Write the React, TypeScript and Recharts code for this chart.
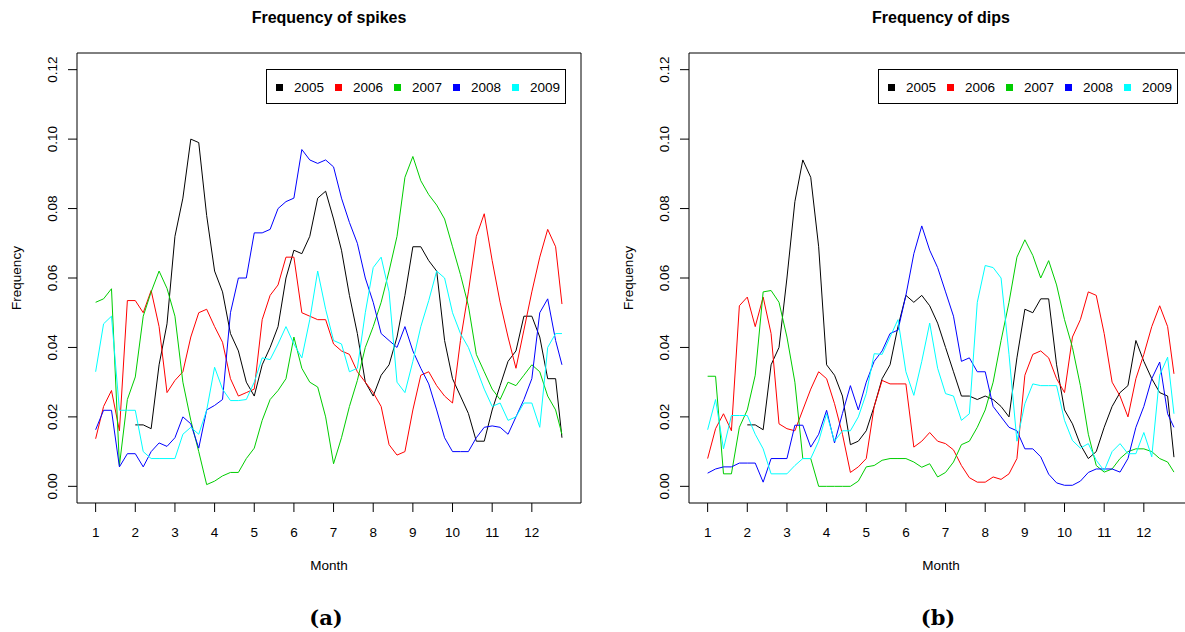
import { LineChart, Line, XAxis, YAxis, ReferenceArea } from 'recharts'

// sampling grid (month of year, fractional)
const months = [
  1, 1.2, 1.4, 1.6, 1.8, 2, 2.2, 2.4, 2.6, 2.8, 3, 3.2, 3.4, 3.6, 3.8, 4, 4.2, 4.4, 4.6, 4.8,
  5, 5.2, 5.4, 5.6, 5.8, 6, 6.2, 6.4, 6.6, 6.8, 7, 7.2, 7.4, 7.6, 7.8, 8, 8.2, 8.4, 8.6, 8.8,
  9, 9.2, 9.4, 9.6, 9.8, 10, 10.2, 10.4, 10.6, 10.8, 11, 11.2, 11.4, 11.6, 11.8, 12, 12.2, 12.4, 12.6, 12.76,
]
const monthTicks = [1, 2, 3, 4, 5, 6, 7, 8, 9, 10, 11, 12]
const freqTicks = [0, 0.02, 0.04, 0.06, 0.08, 0.1, 0.12]
const years = ['2005', '2006', '2007', '2008', '2009']
const colors = ['#000000', '#FF0000', '#00CD00', '#0000FF', '#00FFFF']

// frequency of spikes
const spikes2005 = [
  null, null, null, null, null,
  0.0177, 0.0177, 0.0166, 0.035, 0.0468, 0.072, 0.083, 0.1, 0.099, 0.078,
  0.062, 0.056, 0.044, 0.039, 0.03, 0.026, 0.035, 0.04, 0.046, 0.06,
  0.068, 0.067, 0.072, 0.083, 0.085, 0.077, 0.068, 0.055, 0.044, 0.03,
  0.026, 0.032, 0.035, 0.043, 0.055, 0.069, 0.069, 0.065, 0.062, 0.042,
  0.031, 0.026, 0.021, 0.013, 0.013, 0.022, 0.029, 0.036, 0.039, 0.049,
  0.049, 0.043, 0.031, 0.031, 0.014,
]
const spikes2006 = [
  0.0137, 0.023, 0.0276, 0.016, 0.0535, 0.0535, 0.05, 0.0564, 0.046, 0.027,
  0.0305, 0.033, 0.043, 0.05, 0.051, 0.046, 0.0415, 0.031, 0.026, 0.027,
  0.028, 0.048, 0.055, 0.058, 0.066, 0.066, 0.05, 0.049, 0.048, 0.048,
  0.041, 0.039, 0.038, 0.033, 0.03, 0.027, 0.023, 0.012, 0.009, 0.01,
  0.022, 0.032, 0.033, 0.029, 0.026, 0.024, 0.042, 0.056, 0.072, 0.0785,
  0.065, 0.053, 0.043, 0.034, 0.045, 0.056, 0.066, 0.074, 0.069, 0.0525,
]
const spikes2007 = [
  0.053, 0.054, 0.0569, 0.006, 0.025, 0.0315, 0.049, 0.056, 0.062, 0.057,
  0.049, 0.03, 0.019, 0.01, 0.0005, 0.0015, 0.003, 0.004, 0.004, 0.008,
  0.011, 0.019, 0.025, 0.0276, 0.031, 0.043, 0.034, 0.03, 0.0286, 0.02,
  0.0065, 0.014, 0.023, 0.0305, 0.04, 0.046, 0.053, 0.062, 0.072, 0.089,
  0.095, 0.088, 0.084, 0.081, 0.077, 0.069, 0.061, 0.052, 0.038, 0.033,
  0.028, 0.025, 0.03, 0.029, 0.032, 0.035, 0.033, 0.026, 0.022, 0.015,
]
const spikes2008 = [
  0.0163, 0.0219, 0.0219, 0.0056, 0.0094, 0.0094, 0.0056, 0.01, 0.0125, 0.0115,
  0.014, 0.02, 0.018, 0.011, 0.022, 0.0233, 0.025, 0.05, 0.06, 0.06,
  0.073, 0.073, 0.074, 0.08, 0.082, 0.083, 0.097, 0.094, 0.093, 0.094,
  0.092, 0.083, 0.076, 0.07, 0.06, 0.053, 0.044, 0.042, 0.04, 0.046,
  0.039, 0.034, 0.0295, 0.022, 0.014, 0.01, 0.01, 0.01, 0.014, 0.017,
  0.0174, 0.017, 0.015, 0.02, 0.025, 0.031, 0.05, 0.054, 0.042, 0.035,
]
const spikes2009 = [
  0.033, 0.0468, 0.049, 0.0219, 0.0219, 0.0219, 0.01, 0.008, 0.008, 0.008,
  0.008, 0.015, 0.017, 0.015, 0.0219, 0.0343, 0.028, 0.0247, 0.0247, 0.025,
  0.03, 0.037, 0.0365, 0.041, 0.046, 0.041, 0.037, 0.048, 0.062, 0.051,
  0.042, 0.041, 0.033, 0.034, 0.05, 0.063, 0.066, 0.056, 0.03, 0.027,
  0.036, 0.046, 0.0535, 0.062, 0.06, 0.05, 0.044, 0.04, 0.034, 0.028,
  0.023, 0.024, 0.019, 0.02, 0.024, 0.024, 0.017, 0.04, 0.044, 0.044,
]

// frequency of dips
const dips2005 = [
  null, null, null, null, null,
  0.0177, 0.0177, 0.0163, 0.035, 0.04, 0.06, 0.082, 0.094, 0.089, 0.069,
  0.035, 0.032, 0.026, 0.012, 0.013, 0.016, 0.023, 0.031, 0.035, 0.046,
  0.055, 0.053, 0.055, 0.052, 0.047, 0.04, 0.033, 0.026, 0.026, 0.025,
  0.026, 0.025, 0.023, 0.02, 0.037, 0.051, 0.05, 0.054, 0.054, 0.035,
  0.022, 0.018, 0.012, 0.008, 0.01, 0.017, 0.023, 0.027, 0.029, 0.042,
  0.036, 0.031, 0.027, 0.026, 0.0084,
]
const dips2006 = [
  0.008, 0.0166, 0.0209, 0.016, 0.052, 0.0545, 0.046, 0.0545, 0.044, 0.018,
  0.0166, 0.016, 0.022, 0.028, 0.033, 0.031, 0.0238, 0.015, 0.004, 0.0056,
  0.008, 0.023, 0.0305, 0.0295, 0.0295, 0.0295, 0.0113, 0.013, 0.0155, 0.013,
  0.0123, 0.0105, 0.006, 0.0025, 0.0012, 0.0012, 0.0027, 0.002, 0.0036, 0.008,
  0.032, 0.038, 0.039, 0.037, 0.031, 0.027, 0.043, 0.048, 0.056, 0.055,
  0.044, 0.03, 0.026, 0.02, 0.031, 0.038, 0.046, 0.052, 0.046, 0.0324,
]
const dips2007 = [
  0.0317, 0.0317, 0.0036, 0.0036, 0.017, 0.022, 0.032, 0.056, 0.0564, 0.053,
  0.043, 0.03, 0.008, 0.008, 0, 0, 0, 0, 0, 0.0015,
  0.0056, 0.006, 0.0075, 0.008, 0.008, 0.008, 0.007, 0.0055, 0.0065, 0.0027,
  0.004, 0.007, 0.012, 0.013, 0.017, 0.022, 0.03, 0.042, 0.053, 0.066,
  0.071, 0.0665, 0.06, 0.065, 0.058, 0.048, 0.04, 0.029, 0.015, 0.006,
  0.0041, 0.005, 0.008, 0.01, 0.0108, 0.0108, 0.01, 0.008, 0.007, 0.0041,
]
const dips2008 = [
  0.0038, 0.005, 0.0056, 0.0056, 0.0067, 0.0067, 0.0067, 0.0012, 0.008, 0.008,
  0.008, 0.0176, 0.0176, 0.0113, 0.015, 0.0219, 0.0125, 0.021, 0.029, 0.022,
  0.03, 0.036, 0.039, 0.044, 0.045, 0.055, 0.067, 0.075, 0.068, 0.063,
  0.056, 0.049, 0.036, 0.037, 0.033, 0.033, 0.023, 0.02, 0.017, 0.016,
  0.0108, 0.0108, 0.0085, 0.0035, 0.001, 0.0003, 0.0003, 0.0015, 0.004, 0.005,
  0.005, 0.005, 0.0041, 0.008, 0.017, 0.023, 0.031, 0.0358, 0.0209, 0.017,
]
const dips2009 = [
  0.0163, 0.025, 0.0108, 0.0204, 0.0204, 0.0204, 0.015, 0.0108, 0.0036, 0.0036,
  0.0036, 0.006, 0.008, 0.008, 0.013, 0.0209, 0.013, 0.016, 0.016, 0.02,
  0.0267, 0.0382, 0.038, 0.043, 0.048, 0.033, 0.0262, 0.036, 0.047, 0.034,
  0.0267, 0.026, 0.019, 0.0209, 0.053, 0.0636, 0.063, 0.06, 0.038, 0.013,
  0.0238, 0.0295, 0.029, 0.029, 0.029, 0.019, 0.0132, 0.011, 0.0123, 0.0075,
  0.0045, 0.01, 0.0123, 0.0094, 0.0094, 0.0155, 0.0085, 0.032, 0.0372, 0.0209,
]

const spikeSeries = [spikes2005, spikes2006, spikes2007, spikes2008, spikes2009]
const dipSeries = [dips2005, dips2006, dips2007, dips2008, dips2009]

const toRows = (series: (number | null)[][]) =>
  months.map((month, i) => {
    const row: Record<string, number | null> = { month }
    years.forEach((yr, k) => {
      row['y' + yr] = series[k][i]
    })
    return row
  })

const FONT = '"Liberation Sans", Arial, Helvetica, sans-serif'
const W = 612
const H = 632
// plot box inside each panel
const BOX = { left: 77, right: 581, top: 53, bottom: 503 }
const X_DOMAIN: [number, number] = [0.53, 13.24]
const Y_DOMAIN: [number, number] = [-0.0048, 0.1248]

function YTick(props: any) {
  const { y, payload } = props
  const x = 57
  return (
    <text x={x} y={y} transform={`rotate(-90, ${x}, ${y})`} textAnchor="middle"
      fontSize={13.5} fontFamily={FONT} fill="#000">
      {Number(payload.value).toFixed(2)}
    </text>
  )
}

function XTick(props: any) {
  const { x, payload } = props
  return (
    <text x={x} y={536.5} textAnchor="middle" fontSize={13.5} fontFamily={FONT} fill="#000">
      {payload.value}
    </text>
  )
}

function YearLegend() {
  return (
    <div style={{
      position: 'absolute', left: 266, top: 69, width: 300, height: 35,
      border: '1px solid #000', boxSizing: 'border-box', background: '#fff',
      fontFamily: FONT, fontSize: 13.5,
    }}>
      {years.map((yr, i) => (
        <div key={yr}>
          <div style={{
            position: 'absolute', left: 9 + 59 * i, top: 14, width: 7, height: 7,
            background: colors[i],
          }} />
          <div style={{ position: 'absolute', left: 27 + 59 * i, top: 10.5, lineHeight: '14px' }}>
            {yr}
          </div>
        </div>
      ))}
    </div>
  )
}

type PanelProps = { left: number; title: string; caption: string; series: (number | null)[][] }

function Panel({ left, title, caption, series }: PanelProps) {
  const data = toRows(series)
  const textStyle = { position: 'absolute' as const, fontFamily: FONT, fontSize: 13.5, lineHeight: '16px' }
  return (
    <div style={{ position: 'absolute', left, top: 0, width: W, height: H }}>
      <LineChart width={W} height={H} data={data}
        margin={{ top: BOX.top, right: W - BOX.right, bottom: 0, left: 0 }}>
        <XAxis dataKey="month" type="number" domain={X_DOMAIN} ticks={monthTicks}
          allowDataOverflow height={H - BOX.bottom} axisLine={false} tickSize={9}
          tickLine={{ stroke: '#000' }} tick={XTick} interval={0} />
        <YAxis type="number" domain={Y_DOMAIN} ticks={freqTicks} allowDataOverflow
          width={BOX.left} axisLine={false} tickSize={9} tickLine={{ stroke: '#000' }}
          tick={YTick} interval={0} />
        {years.map((yr, i) => (
          <Line key={yr} dataKey={'y' + yr} type="linear" stroke={colors[i]} strokeWidth={1}
            dot={false} activeDot={false} isAnimationActive={false} connectNulls={false} />
        ))}
        <ReferenceArea x1={X_DOMAIN[0]} x2={X_DOMAIN[1]} y1={Y_DOMAIN[0]} y2={Y_DOMAIN[1]}
          fill="none" stroke="#000" strokeWidth={1} fillOpacity={0} />
      </LineChart>
      <div style={{
        position: 'absolute', left: BOX.left, width: BOX.right - BOX.left, top: 8,
        textAlign: 'center', fontFamily: FONT, fontWeight: 'bold', fontSize: 16, lineHeight: '20px',
      }}>
        {title}
      </div>
      <div style={{ ...textStyle, left: BOX.left, width: BOX.right - BOX.left, top: 558, textAlign: 'center' }}>
        Month
      </div>
      <div style={{
        ...textStyle, left: 17 - 40, width: 80, top: 270, textAlign: 'center',
        transform: 'rotate(-90deg)',
      }}>
        Frequency
      </div>
      <YearLegend />
      <div style={{
        position: 'absolute', left: BOX.left - 3, width: BOX.right - BOX.left, top: 606,
        textAlign: 'center', fontFamily: '"DejaVu Serif", serif', fontWeight: 'bold',
        fontSize: 21, lineHeight: '24px',
      }}>
        {caption}
      </div>
    </div>
  )
}

export default function App() {
  return (
    <div style={{
      position: 'fixed', left: 0, top: 0, width: 1185, height: 632,
      overflow: 'hidden', background: '#fff',
    }}>
      <Panel left={0} title="Frequency of spikes" caption="(a)" series={spikeSeries} />
      <Panel left={612} title="Frequency of dips" caption="(b)" series={dipSeries} />
    </div>
  )
}
